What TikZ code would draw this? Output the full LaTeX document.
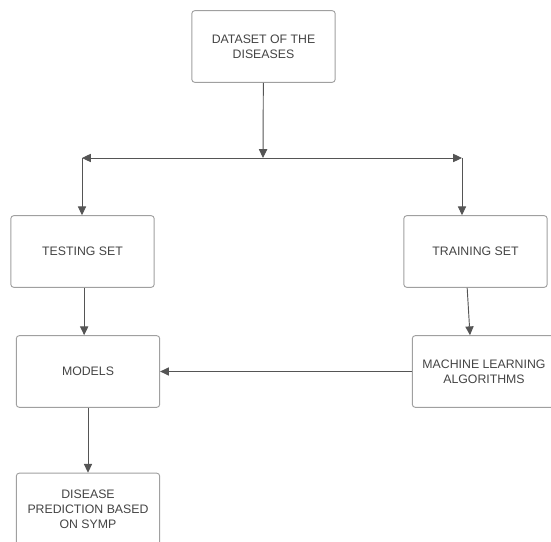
\documentclass[tikz,border=0pt]{standalone}
\usepackage{fontspec}
\setmainfont{Liberation Sans}
\usetikzlibrary{arrows.meta,positioning}
\definecolor{boxgray}{HTML}{A0A0A0}
\definecolor{arrowgray}{HTML}{555555}
\definecolor{textgray}{HTML}{444444}
\tikzset{
	stagebox/.style={draw=boxgray, line width=0.8pt, rounded corners=2.5pt, fill=white,
		text=textgray, align=center, font=\fontsize{10.5}{13}\selectfont,
		minimum width=4.3cm, minimum height=2.15cm, inner sep=2pt},
	flow/.style={->, draw=arrowgray, line width=0.8pt},
	>={Triangle[width=7pt,length=7.5pt]}
}
\begin{document}
\begin{tikzpicture}[x=0.03cm,y=-0.03cm]
			\useasboundingbox (0,0) rectangle (551,542);
			\clip (0,0) rectangle (551,542);
			\node[stagebox] (dataset) at (263.5,46.5) {DATASET OF THE\\DISEASES};
			\node[stagebox] (testing) at (82.5,251.5) {TESTING SET};
			\node[stagebox] (training) at (475.5,251.5) {TRAINING SET};
			\node[stagebox] (models) at (88,371.5) {MODELS};
			\node[stagebox] (mlalgo) at (484,371.5) {MACHINE LEARNING\\ALGORITHMS};
			\node[stagebox] (disease) at (88,509) {DISEASE\\PREDICTION BASED\\ON SYMP};
			\coordinate (SplitPoint) at (263,158);
			\coordinate (LeftPoint) at (82,158);
			\coordinate (RightPoint) at (462,158);
			\draw[flow] (dataset) -- (SplitPoint);
			\draw[flow, <->] (LeftPoint) -- (RightPoint);
			\draw[flow] (LeftPoint) -- (LeftPoint |- testing.north);
			\draw[flow] (RightPoint) -- (RightPoint |- training.north);
			\draw[flow] ([xshift=0.05cm]testing.south) -- ([xshift=0.05cm]testing.south |- models.north);
			\draw[flow] ([xshift=-0.25cm]training.south) -- ([xshift=-0.42cm]mlalgo.north);
			\draw[flow] (mlalgo) -- (models);
			\draw[flow] (models) -- (disease);
		\end{tikzpicture}
\end{document}
